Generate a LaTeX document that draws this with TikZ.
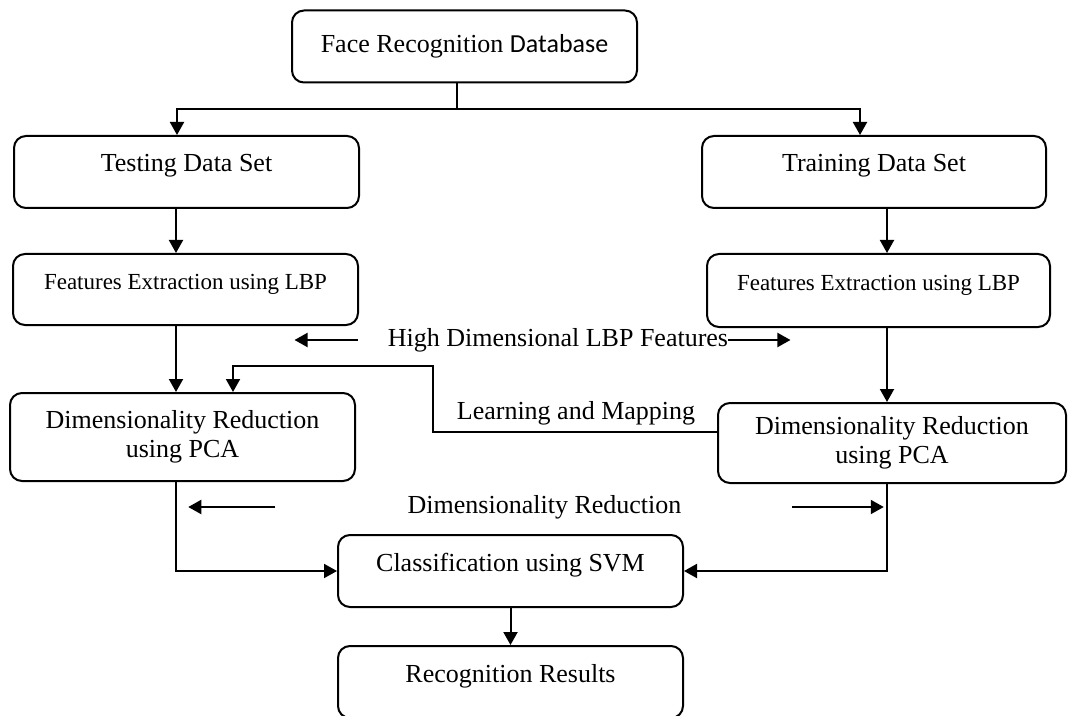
\documentclass[tikz,border=0pt]{standalone}
\usepackage{fontspec}
\setmainfont{Liberation Serif}
\newfontfamily\dbfont{Carlito}
\usepackage{tikz}
\usetikzlibrary{arrows.meta, positioning}

\begin{document}
\begin{tikzpicture}[
                x=0.5pt, y=-0.5pt, % one unit is one pixel, y runs down
                box/.style={draw, line width=1pt, rounded corners=6pt, minimum width=172.5pt, minimum height=36pt, inner sep=0pt, font=\fontsize{13}{14.5}\selectfont}, % rounded step box
                one/.style={box, text height=7pt, text depth=7pt}, % one line, set high in the box
                small/.style={font=\fontsize{11.5}{14}\selectfont}, % feature boxes
                lbl/.style={inner sep=0pt, font=\fontsize{13}{14.5}\selectfont}, % free labels
                line/.style={line width=1pt},
                arr/.style={line width=1pt, -{Triangle[length=6.5pt,width=7pt]}}
                ]
                \useasboundingbox (0,0) rectangle (1069,716);
                \clip (0,0) rectangle (1069,716);

                % boxes
                \node[box] (db) at (464.5,46.5) {Face Recognition {\dbfont Database}};
                \node[one] (test) at (186.5,172) {Testing Data Set};
                \node[one, minimum width=172pt] (train) at (874,172) {Training Data Set};
                \node[one, small, minimum height=35.5pt] (featL) at (185.5,289.5) {Features Extraction using LBP};
                \node[one, small, minimum width=171.5pt, minimum height=36.5pt] (featR) at (878.5,290.5) {Features Extraction using LBP};
                \node[box, align=center, minimum height=44pt] (dimL) at (182.5,437) {Dimensionality Reduction\\using PCA};
                \node[box, align=center, minimum width=174pt, minimum height=40pt] (dimR) at (892,443) {Dimensionality Reduction\\using PCA};
                \node[one] (cls) at (510.5,571) {Classification using SVM};
                \node[one] (res) at (510.5,682) {Recognition Results};

                % labels between the two columns
                \node[lbl] (hdl) at (558,340) {High Dimensional LBP Features};
                \node[lbl] (lml) at (576,413) {Learning and Mapping};
                \node[lbl] (drl) at (544.5,507) {Dimensionality Reduction};

                % bend points and columns
                \coordinate (split) at (457,109);
                \coordinate (colL) at (176,0);
                \coordinate (colR) at (887,0);
                \coordinate (bend) at (433,366);
                \coordinate (drop) at (233,0);

                \draw[line] (db.south -| split) -- (split);
                \draw[arr] (split) -| ([xshift=-4.75pt]test.north);
                \draw[arr] (split) -| ([xshift=-7pt]train.north);
                \draw[arr] (test.south -| colL) -- (featL.north -| colL);
                \draw[arr] (featL.south -| colL) -- (dimL.north -| colL);
                \draw[arr] (train.south -| colR) -- (featR.north -| colR);
                \draw[arr] (featR.south -| colR) -- (dimR.north -| colR);
                \draw[arr] ([yshift=5.5pt]dimR.west) -| (bend) -| (dimL.north -| drop);
                \draw[arr] (dimL.south -| colL) |- (cls.west);
                \draw[arr] (dimR.south -| colR) |- (cls.east);
                \draw[arr] (cls.south) -- (res.north);

                % side arrows of the labels
                \draw[arr] ([xshift=-15pt]hdl.west) -- ++(-31.5pt,0);
                \draw[arr] (hdl.east) -- ++(31pt,0);
                \draw[arr] ([xshift=-66pt]drl.west) -- ++(-43.5pt,0);
                \draw[arr] ([xshift=55pt]drl.east) -- ++(46pt,0);
            \end{tikzpicture}
\end{document}
